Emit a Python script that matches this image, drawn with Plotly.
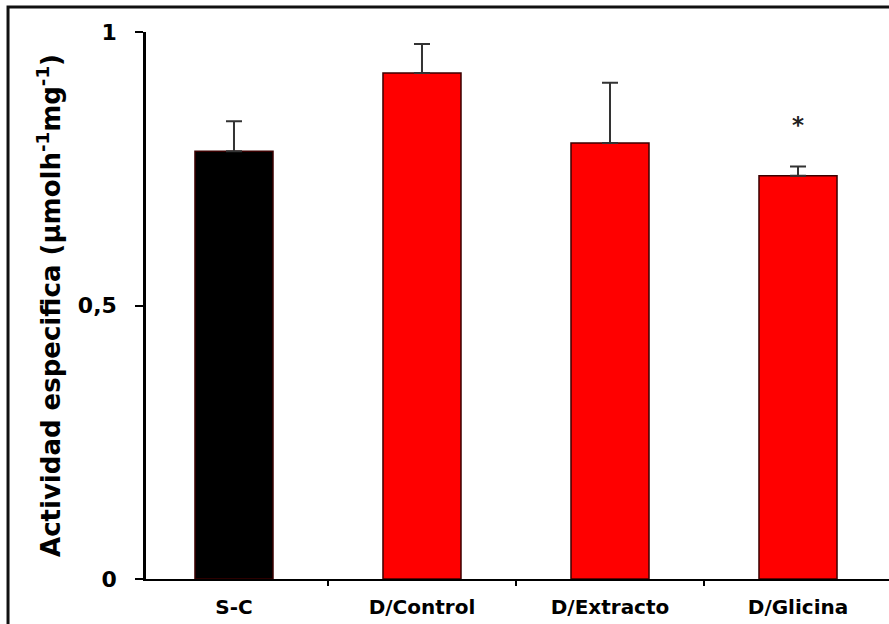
import plotly.graph_objects as go

categories = ["S-C", "D/Control", "D/Extracto", "D/Glicina"]
values = [0.782, 0.925, 0.797, 0.737]
errors = [0.055, 0.053, 0.110, 0.017]
colors = ["#000000", "#ff0000", "#ff0000", "#ff0000"]
y_tickvals = [0, 0.5, 1]
y_ticktext = ["0", "0,5", "1"]
star_category = "D/Glicina"
star_y = 0.83

fig = go.Figure()
fig.add_trace(go.Bar(
    x=categories, y=values, width=0.415,
    marker=dict(color=colors, line=dict(color="#3a0000", width=1.5)),
    error_y=dict(type="data", array=errors, arrayminus=[0]*len(errors), symmetric=False,
                 color="#333333", thickness=2, width=8),
    showlegend=False,
))

fig.add_annotation(x=star_category, y=star_y, xref="x", yref="y", text="*", showarrow=False,
                   font=dict(family="DejaVu Sans", size=23, color="#222222", weight="bold"),
                   yanchor="middle")

# outer frame
fig.add_shape(type="rect", xref="paper", yref="paper", x0=-0.1857, x1=1.05, y0=-0.3, y1=1.0457,
              line=dict(color="#111111", width=3), fillcolor="rgba(0,0,0,0)", layer="above")

fig.update_layout(
    width=889, height=624,
    margin=dict(l=146, r=0, t=32, b=45),
    paper_bgcolor="white", plot_bgcolor="white",
    bargap=0.585,
    xaxis=dict(
        type="category", range=[-0.468, 3.484],
        showline=True, linecolor="black", linewidth=2,
        ticks="outside", tickson="boundaries", ticklen=5, tickwidth=2, tickcolor="black",
        showgrid=False, zeroline=False,
        tickfont=dict(family="DejaVu Sans", size=20, color="black", weight="bold"),
        ticklabelstandoff=9,
    ),
    yaxis=dict(
        range=[0, 1], tickvals=y_tickvals, ticktext=y_ticktext,
        showline=True, linecolor="black", linewidth=2.5,
        ticks="outside", ticklen=8, tickwidth=2, tickcolor="black",
        showgrid=False, zeroline=False,
        tickfont=dict(family="DejaVu Sans", size=22, color="black", weight="bold"),
        ticklabelstandoff=14,
        title=dict(text="Actividad especifica (µmolh<sup>-1</sup>mg<sup>-1</sup>)",
                   font=dict(family="DejaVu Sans", size=26, color="black", weight="bold"),
                   standoff=10),
    ),
)

fig.write_html("out.html")
